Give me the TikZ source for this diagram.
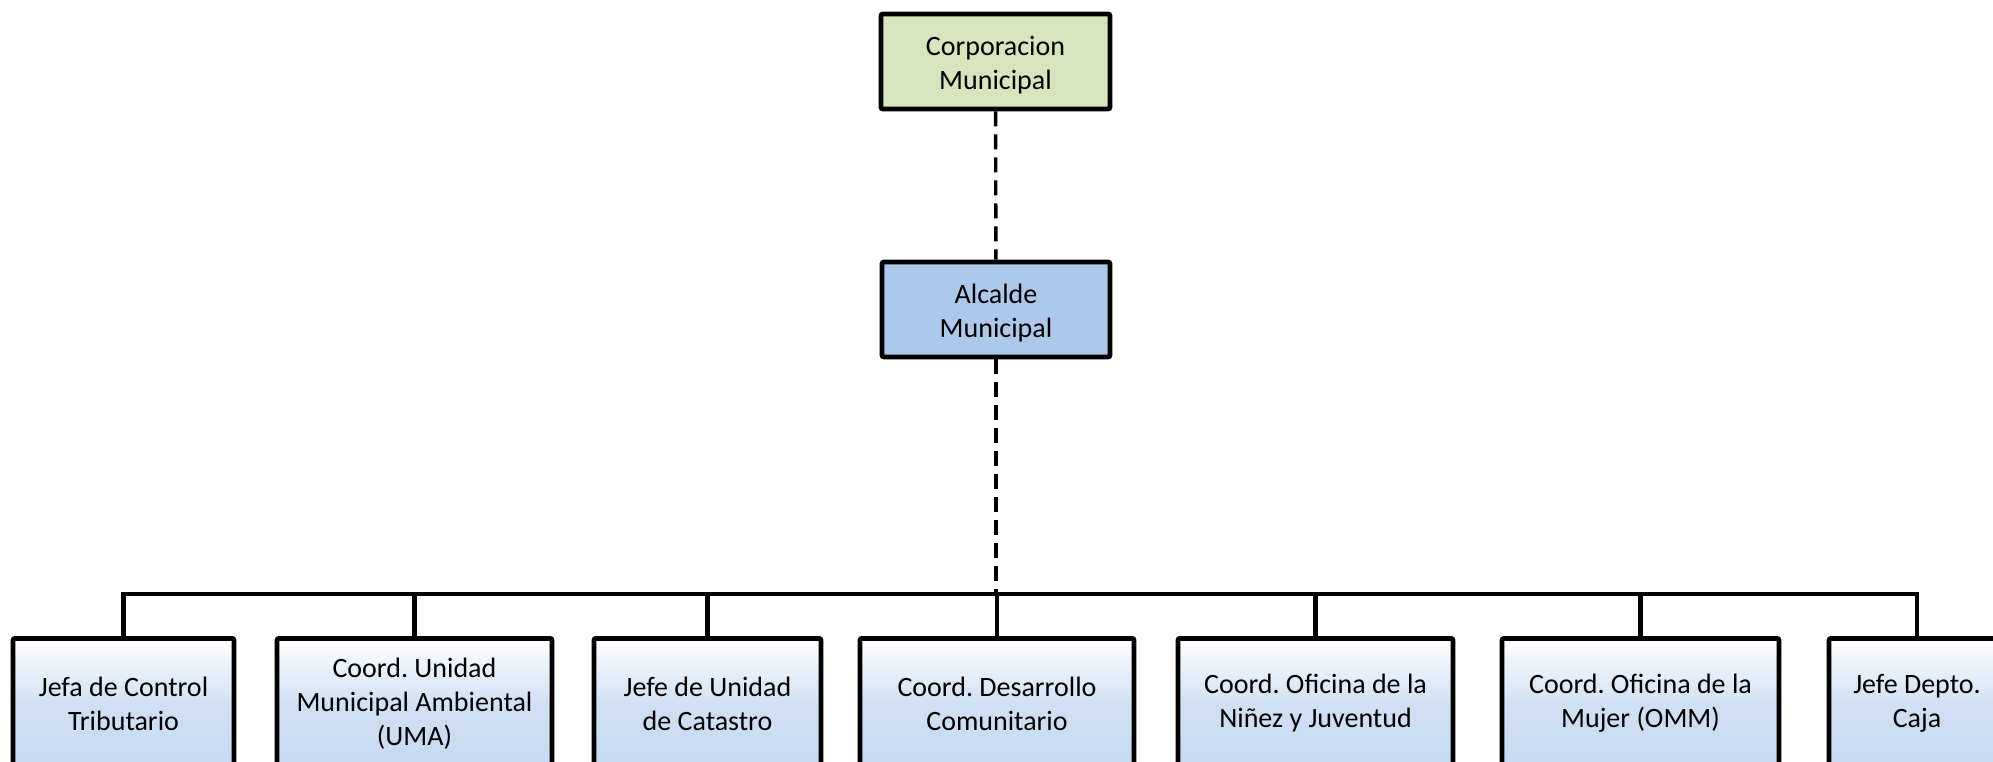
\documentclass[tikz,border=0pt]{standalone}
\usepackage{fontspec}
\setmainfont{Carlito}
\usetikzlibrary{positioning}
\definecolor{corpgreen}{HTML}{D7E4BD}
\definecolor{alcblue}{HTML}{ADC8EB}
\definecolor{unitblue}{HTML}{C5D9F1}
\tikzset{box/.style={draw=black, line width=2.4pt, rounded corners=1pt,
 align=center, inner sep=0pt, font=\fontsize{14}{17}\selectfont
}}
\tikzset{head/.style={box, minimum height=47.5pt, text height=30.5pt}}
\tikzset{unit/.style={box, anchor=north, minimum height=65pt,
 top color=white, bottom color=unitblue, middle color=unitblue!80!white
}}
\tikzset{bus/.style={line width=2.4pt}, link/.style={line width=1.7pt, dash pattern=on 7.5pt off 4pt}}

\begin{document}
\frenchspacing
\begin{tikzpicture}[x=0.5pt, y=-0.5pt]

\useasboundingbox (0,0) rectangle (1993,761);
\clip (0,0) rectangle (1993,761);

\node [head, fill=corpgreen, minimum width=114.5pt]
  (corp) at (995.5,61.5) {Corporacion\\Municipal};
\node [head, fill=alcblue, minimum width=114pt]
  (alcalde) at (996,309.5) {Alcalde\\Municipal};

\foreach \n/\x/\w/\t in 
  {tribut/123.5/110.5/{Jefa de Control\\Tributario},
  uma/414.5/137.5/{Coord. Unidad\\Municipal Ambiental\\(UMA)},
  catastro/707.5/113.5/{Jefe de Unidad\\de Catastro},
  desarrollo/997/137/{Coord. Desarrollo\\Comunitario},
  juventud/1315.5/137.5/{Coord. Oficina de la\\Niñez y Juventud},
  mujer/1640.5/138.5/{Coord. Oficina de la\\Mujer (OMM)},
  caja/1917/88/{Jefe Depto.\\Caja}}
\node [unit, minimum width=\w pt] (\n) at (\x,636) {\t};

\coordinate (bus) at (997,594);

\draw [link] (corp) -- (alcalde);
\draw [link] (alcalde.south) -- (alcalde.south |- bus);

\foreach \n in {tribut, uma, catastro, desarrollo, juventud, mujer, caja}
\draw [bus] (\n.north) |- (bus);
\end{tikzpicture}
\end{document}
